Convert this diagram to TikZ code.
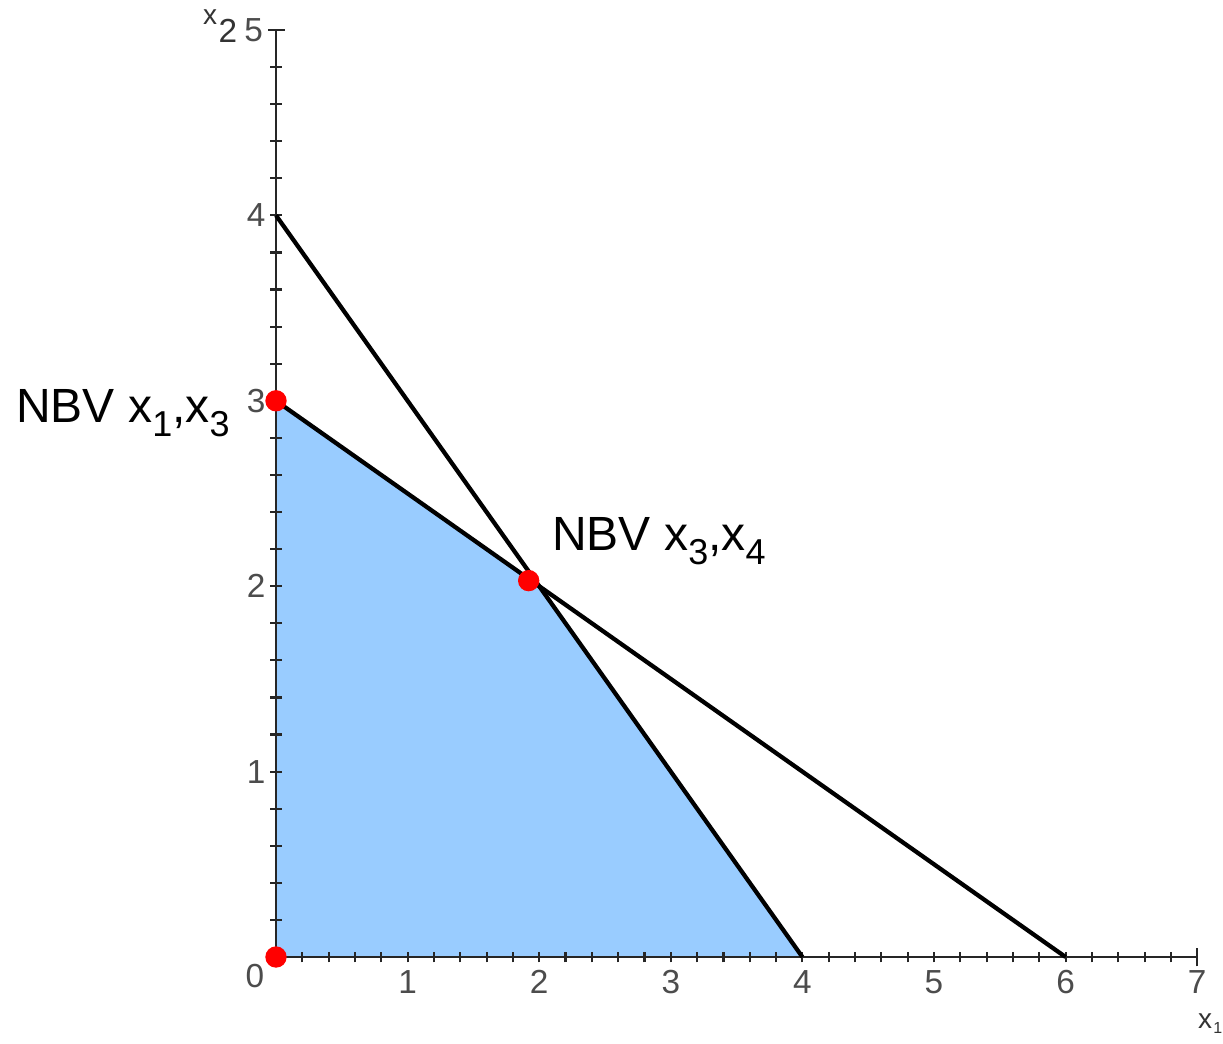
\documentclass[tikz,border=0pt]{standalone}
\usepackage{fontspec}
\setmainfont{Liberation Sans}
\newcommand\sbs[1]{\raisebox{-0.3em}{\fontsize{27}{27}\selectfont #1}}
\begin{document}
\begin{tikzpicture}[x=0.75pt,y=-0.75pt,
  axisline/.style={line width=2.2pt,black!85},
  ticklen/.style={line width=1.6pt,black!85},
  conline/.style={line width=3.2pt,black},
  reddot/.style={circle,fill=red,inner sep=0pt,minimum size=16pt},
  ticklab/.style={text=black!70,font=\fontsize{25}{25}\selectfont,inner sep=0pt},
  nbv/.style={font=\fontsize{36}{36}\selectfont,inner sep=0pt,anchor=base west}]
\useasboundingbox[fill=white] (0,0) rectangle (1223,1044);
\begin{scope}[shift={(207pt,-717.75pt)},x=98.7pt,y=139.05pt]
  \coordinate (O) at (0,0);
  \coordinate (X7) at (7,0);
  \coordinate (Y5) at (0,5);
  \coordinate (A) at (0,4);
  \coordinate (B) at (4,0);
  \coordinate (C) at (0,3);
  \coordinate (D) at (6,0);
  \coordinate (P) at (2,2);
  % feasible region
  \fill[fill={rgb,255:red,153;green,204;blue,255}] (O) -- (C) -- (P) -- (B) -- cycle;
  % axes
  \draw[axisline] (O) -- (X7);
  \draw[axisline] (O) -- (Y5);
  \foreach \i in {1,...,34} \draw[ticklen] (\i/5,0) ++(0,-4pt) -- ++(0,8pt);
  \foreach \i in {1,...,24} \draw[ticklen] (0,\i/5) ++(-4.5pt,0) -- ++(9pt,0);
  \draw[ticklen] (X7) ++(0,-7pt) -- ++(0,14pt);
  \draw[ticklen] (Y5) ++(-6pt,0) -- ++(13pt,0);
  % constraint lines
  \draw[conline] (A) -- (B);
  \draw[conline] (C) -- (D);
  % red points
  \node[reddot] (pC) at (C) {};
  \node[reddot] (pO) at (O) {};
  \node[reddot] (pP) at (1.92,2.03) {};
  % tick labels
  \node[ticklab] (l0) at (-0.16,-0.1) {0};
  \foreach \i in {1,...,7} \node[ticklab] (lx\i) at (\i,-0.135) {\i};
  \foreach \i in {1,...,4} \node[ticklab] (ly\i) at (-0.15,\i) {\i};
  \node[ticklab] (ly5) at (-0.17,5) {5};
\end{scope}
% axis names
\node[ticklab,text=black!80,font=\fontsize{21}{21}\selectfont] (x2a) at (210,17) {x};
\node[ticklab,text=black!80] (x2b) at (228,31) {2};
\node[ticklab,text=black!80,font=\fontsize{21}{21}\selectfont] (x1a) at (1205,1021) {x};
\node[ticklab,text=black!80,font=\fontsize{12}{12}\selectfont,anchor=west] (x1b) at (1213,1028) {1};
% labels
\node[nbv] (n1) at (16,422) {NBV x\sbs{1},x\sbs{3}};
\node[nbv] (n2) at (552,550) {NBV x\sbs{3},x\sbs{4}};
\end{tikzpicture}
\end{document}
